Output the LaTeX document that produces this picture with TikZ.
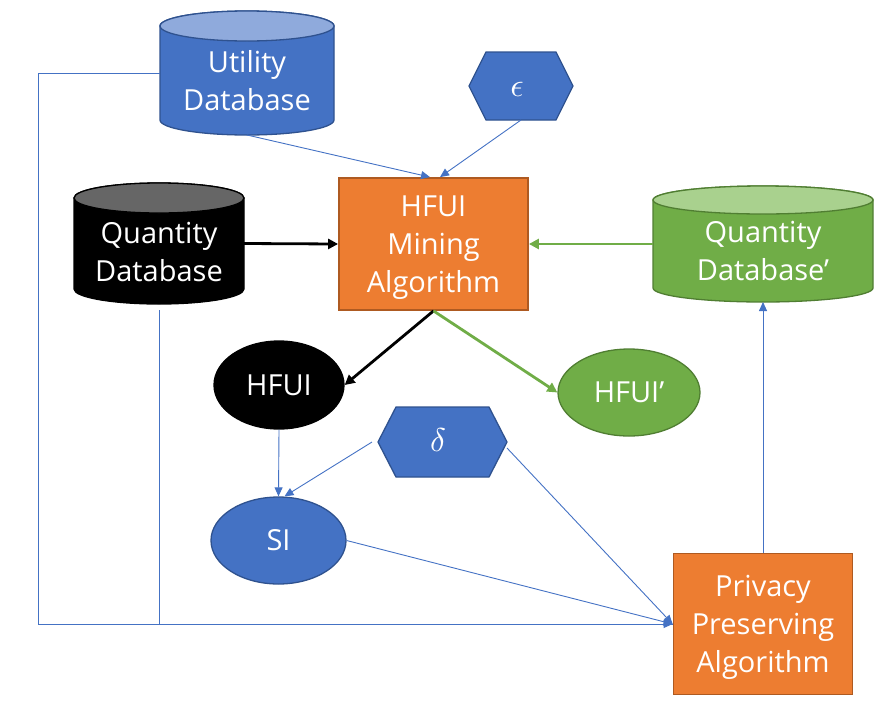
\documentclass[tikz,border=0pt]{standalone}
\usepackage{fontspec}
\usepackage{graphicx}
\setmainfont{Open Sans}
\usetikzlibrary{arrows.meta,shapes.geometric}
\definecolor{bfill}{HTML}{4472C4}
\definecolor{bdraw}{HTML}{2F528F}
\definecolor{btop}{HTML}{8FAADC}
\definecolor{gfill}{HTML}{70AD47}
\definecolor{gdraw}{HTML}{507E32}
\definecolor{gtop}{HTML}{A9D18E}
\definecolor{ofill}{HTML}{ED7D31}
\definecolor{odraw}{HTML}{AE5A21}
\definecolor{ktop}{HTML}{666666}
\definecolor{lblue}{HTML}{4472C4}
\newcommand{\nodepth}[1]{\raisebox{0pt}[\height][0pt]{#1}}
\begin{document}
\begin{tikzpicture}[x=1pt,y=-1pt,
  txt/.style={text=white,font=\fontsize{29}{38}\selectfont,align=center,inner sep=0pt},
  symb/.style={text=white,inner sep=0pt},
  holder/.style={inner sep=0pt,outer sep=0pt},
  shapeline/.style={line width=1.3pt},
  algbox/.style={txt,draw=odraw,fill=ofill,line width=1.8pt,rectangle},
  oval/.style={txt,ellipse,line width=1.3pt},
  thin/.style={draw=lblue,line width=0.9pt,-{Triangle[length=9pt,width=8pt]}},
  plain/.style={draw=lblue,line width=0.9pt},
  thick/.style={line width=2.8pt,-{Triangle[length=10pt,width=10pt]}}
]
\useasboundingbox (0,0) rectangle (891,710);

% ---------- cylinders ----------
% Utility Database
\draw[shapeline,draw=bdraw,fill=bfill] (160,26) -- (160,120)
  arc[start angle=180,end angle=360,x radius=87pt,y radius=15pt] -- (334,26)
  arc[start angle=0,end angle=180,x radius=87pt,y radius=15pt] -- cycle;
\draw[shapeline,draw=bdraw,fill=btop] (247,26) ellipse[x radius=87pt,y radius=15pt];
% Quantity Database
\draw[shapeline,draw=black,fill=black] (74,198) -- (74,289)
  arc[start angle=180,end angle=360,x radius=85pt,y radius=15pt] -- (244,198)
  arc[start angle=0,end angle=180,x radius=85pt,y radius=15pt] -- cycle;
\draw[shapeline,draw=black,fill=ktop] (159,198) ellipse[x radius=85pt,y radius=15pt];
% Quantity Database'
\draw[shapeline,draw=gdraw,fill=gfill] (653,200) -- (653,288)
  arc[start angle=180,end angle=360,x radius=110pt,y radius=14pt] -- (873,200)
  arc[start angle=0,end angle=180,x radius=110pt,y radius=14pt] -- cycle;
\draw[shapeline,draw=gdraw,fill=gtop] (763,200) ellipse[x radius=110pt,y radius=14pt];

% ---------- hexagons ----------
\draw[shapeline,draw=bdraw,fill=bfill] (469,86) -- (486,52) -- (556,52) -- (573,86) -- (556,120) -- (486,120) -- cycle;
\draw[shapeline,draw=bdraw,fill=bfill] (378,442) -- (396,407) -- (489,407) -- (507,442) -- (489,477) -- (396,477) -- cycle;

% ---------- holder nodes (shape extents) ----------
\node[holder,minimum width=174pt,minimum height=124pt] (ud) at (247,73) {};
\node[holder,minimum width=170pt,minimum height=121pt] (qd) at (159,243.5) {};
\node[holder,minimum width=220pt,minimum height=116pt] (qdp) at (763,244) {};
\node[holder,minimum width=104pt,minimum height=68pt] (eps) at (521,86) {};
\node[holder,minimum width=129pt,minimum height=70pt] (del) at (442.5,442) {};

% ---------- texts ----------
\node[txt] (udt) at (247,81) {Utility\\Database};
\node[txt] (qdt) at (159,252) {Quantity\\Database};
\node[txt] (qdpt) at (763,251) {Quantity\\Database’};
\node[symb] (epst) at (517,89.5) {\scalebox{3.3}{$\epsilon$}};
\node[symb] (delt) at (438,440.5) {\scalebox{3.3}{$\delta$}};

% ---------- boxes and ovals ----------
\node[algbox,minimum width=189pt,minimum height=132pt] (hm) at (433.5,244) {HFUI\\Mining\\\nodepth{Algorithm}};
\node[algbox,minimum width=179pt,minimum height=141pt] (pp) at (763,624) {Privacy\\Preserving\\\nodepth{Algorithm}};
\node[oval,draw=black,fill=black,minimum width=130pt,minimum height=88pt] (hf) at (279,385) {HFUI};
\node[oval,draw=gdraw,fill=gfill,minimum width=142pt,minimum height=87pt] (hfp) at (629,392.5) {HFUI’};
\node[oval,draw=bdraw,fill=bfill,minimum width=135pt,minimum height=87pt] (si) at (278.5,540.5) {SI};

% ---------- connectors ----------
\draw[thin] (ud.south) -- ([xshift=-3.5pt]hm.north);
\draw[thin] (eps.south) -- ([xshift=6.5pt]hm.north);
\draw[thick,draw=black] (qd.east) -- (hm.west);
\draw[thick,draw=gfill] (qdp.west) -- (hm.east);
\draw[thick,draw=black] (hm.south) -- (hf.east);
\draw[thick,draw=gfill] (hm.south) -- (hfp.west);
\draw[thin] (hf.south) -- (si.north);
\draw[thin] ([xshift=-6pt]del.west) -- ([xshift=6pt]si.north);
\draw[thin] ([yshift=-6pt]del.east) -- (pp.west);
\draw[thin] (si.east) -- (pp.west);
\draw[thin] (ud.west) -- ++(-122,0) |- (pp.west);
\draw[plain] ([yshift=-6pt]qd.south) |- (pp.west);
\draw[thin] (pp.north) -- (qdp.south);
\end{tikzpicture}
\end{document}
